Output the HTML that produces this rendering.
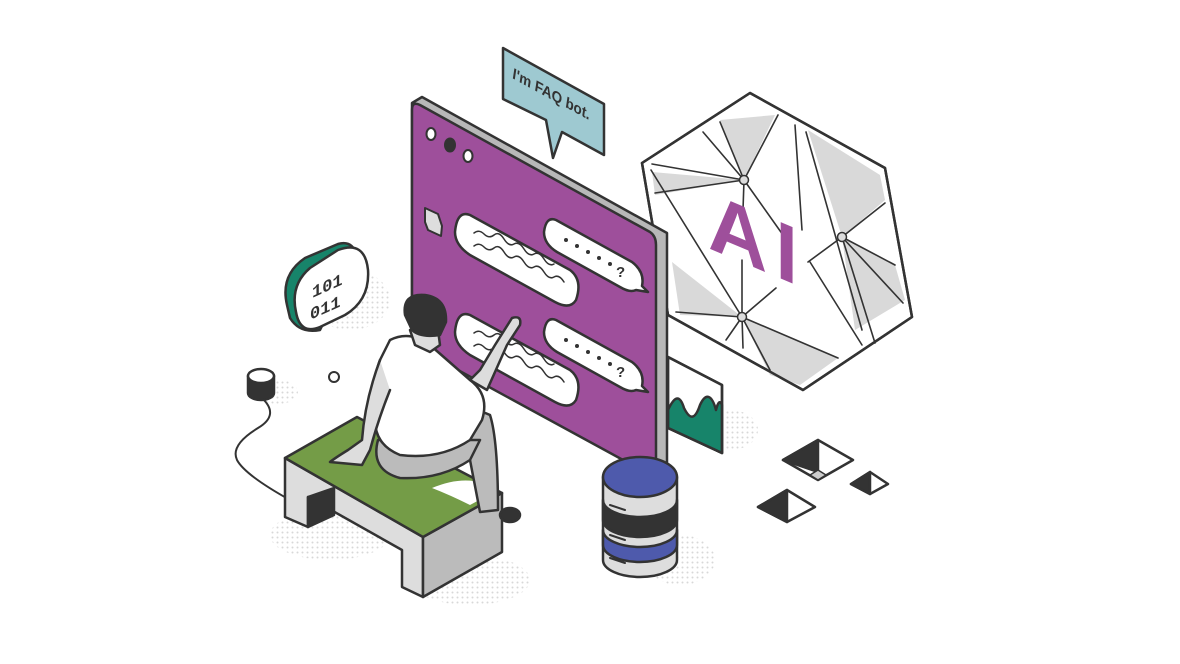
<!DOCTYPE html>
<html><head><meta charset="utf-8"><style>html,body{margin:0;padding:0;background:#fff}svg{display:block}</style></head>
<body>
<svg width="1180" height="664" viewBox="0 0 1180 664" xmlns="http://www.w3.org/2000/svg" stroke="#333" stroke-width="2.5" stroke-linejoin="round" stroke-linecap="round">
<defs>
<pattern id="dots" width="5" height="5" patternUnits="userSpaceOnUse"><circle cx="2.5" cy="2.5" r="1" fill="#d8d8d8" stroke="none"/></pattern>
</defs>
<g stroke="none" fill="url(#dots)">
<ellipse cx="350" cy="300" rx="40" ry="30"/>
<ellipse cx="278" cy="392" rx="20" ry="12"/>
<ellipse cx="330" cy="535" rx="60" ry="25"/>
<ellipse cx="470" cy="580" rx="60" ry="25"/>
<ellipse cx="730" cy="430" rx="28" ry="20"/>
<ellipse cx="680" cy="560" rx="35" ry="25"/>
</g>
<!-- green chart panel -->
<polygon points="668,357 722,385 722,453 668,428" fill="#fff"/>
<path d="M668,410 C675,395 680,395 684,408 C690,420 695,420 700,405 C706,392 712,395 716,410 C718,402 720,400 722,405 L722,453 L668,428 Z" fill="#17846a"/>
<polygon points="668,357 722,385 722,453 668,428" fill="none"/>
<!-- hexagon AI -->
<polygon points="642,163 750,93 885,168 912,317 803,390 668,315" fill="#fff"/>
<g fill="#d9d9d9" stroke="none">
<polygon points="720,120 775,115 744,180"/>
<polygon points="652,172 744,180 655,195"/>
<polygon points="808,130 880,175 885,200 842,237"/>
<polygon points="842,237 895,265 905,300 855,330"/>
<polygon points="672,262 742,317 680,315"/>
<polygon points="742,317 838,358 800,385 770,375"/>
</g>
<polygon points="642,163 750,93 885,168 912,317 803,390 668,315" fill="none"/>
<g stroke-width="1.6" fill="none">
<line x1="744" y1="180" x2="703" y2="132"/><line x1="744" y1="180" x2="720" y2="122"/><line x1="744" y1="180" x2="778" y2="115"/>
<line x1="744" y1="180" x2="652" y2="164"/><line x1="744" y1="180" x2="655" y2="193"/><line x1="744" y1="180" x2="743" y2="210"/>
<line x1="744" y1="180" x2="783" y2="235"/>
<line x1="651" y1="170" x2="742" y2="317"/><line x1="742" y1="317" x2="676" y2="312"/><line x1="742" y1="317" x2="726" y2="340"/>
<line x1="742" y1="317" x2="743" y2="348"/><line x1="742" y1="317" x2="770" y2="370"/><line x1="742" y1="317" x2="838" y2="358"/>
<line x1="742" y1="317" x2="776" y2="288"/><line x1="742" y1="317" x2="742" y2="260"/>
<line x1="795" y1="125" x2="802" y2="230"/>
<line x1="806" y1="132" x2="862" y2="330"/>
<line x1="842" y1="237" x2="885" y2="203"/><line x1="842" y1="237" x2="895" y2="265"/><line x1="842" y1="237" x2="903" y2="303"/>
<line x1="842" y1="237" x2="875" y2="343"/><line x1="842" y1="237" x2="808" y2="262"/><line x1="810" y1="262" x2="862" y2="345"/>
</g>
<circle cx="744" cy="180" r="4.5" fill="#ddd" stroke-width="1.5"/>
<circle cx="842" cy="237" r="4.5" fill="#ddd" stroke-width="1.5"/>
<circle cx="742" cy="317" r="4.5" fill="#ddd" stroke-width="1.5"/>
<text x="0" y="0" transform="matrix(1,0.42,0,1,708,248)" font-family="Liberation Sans, sans-serif" font-weight="bold" font-size="82" fill="#9e4f9b" stroke="none" letter-spacing="8">AI</text>
<!-- panel -->
<polygon points="412,103 422,97 667,233 667,475 657,478 412,340" fill="#b8b8b8"/>
<path d="M412,110 Q412,101 420,105 L650,232 Q656,236 656,245 L656,478 L412,345 Z" fill="#9e4f9b"/>
<ellipse cx="431" cy="134" rx="4.5" ry="6" fill="#fff" stroke-width="2"/>
<ellipse cx="450" cy="145" rx="5" ry="6.5" fill="#333" stroke-width="2"/>
<ellipse cx="468" cy="156" rx="4.5" ry="6" fill="#fff" stroke-width="2"/>
<path d="M425,208 L438,214 L442,226 L441,236 L428,230 L425,222 Z" fill="#ddd" stroke-width="2"/>
<g fill="#fff">
<path d="M470,215 L570,270 Q583,280 576,300 Q570,310 555,302 L470,255 Q455,245 455,232 Q457,210 470,215 Z"/>
<path d="M556,220 L632,262 Q645,272 642,286 L648,292 L636,290 Q630,293 620,287 L557,252 Q544,244 544,232 Q546,216 556,220 Z"/>
<path d="M470,315 L570,370 Q583,380 576,400 Q570,410 555,402 L470,355 Q455,345 455,332 Q457,310 470,315 Z"/>
<path d="M556,320 L632,362 Q645,372 642,386 L648,392 L636,390 Q630,393 620,387 L557,352 Q544,344 544,332 Q546,316 556,320 Z"/>
</g>
<g fill="none" stroke-width="1.5">
<path d="M474,233 q5,-4 10,1 t10,1 t10,4 t10,5 t10,5 t10,5 t10,5 t10,5"/>
<path d="M474,246 q5,-4 10,1 t10,1 t10,4 t10,5 t10,5 t10,5 t10,5 t10,5 t10,5"/>
<path d="M474,333 q5,-4 10,1 t10,1 t10,4 t10,5 t10,5 t10,5 t10,5 t10,5"/>
<path d="M474,346 q5,-4 10,1 t10,1 t10,4 t10,5 t10,5 t10,5 t10,5 t10,5 t10,5"/>
</g>
<g fill="#333" stroke="none">
<circle cx="566" cy="240" r="2"/><circle cx="577" cy="246" r="2"/><circle cx="588" cy="252" r="2"/><circle cx="599" cy="258" r="2"/><circle cx="610" cy="264" r="2"/>
<circle cx="566" cy="340" r="2"/><circle cx="577" cy="346" r="2"/><circle cx="588" cy="352" r="2"/><circle cx="599" cy="358" r="2"/><circle cx="610" cy="364" r="2"/>
</g>
<text x="616" y="277" font-family="Liberation Sans, sans-serif" font-weight="bold" font-size="15" fill="#333" stroke="none">?</text>
<text x="616" y="377" font-family="Liberation Sans, sans-serif" font-weight="bold" font-size="15" fill="#333" stroke="none">?</text>
<!-- FAQ bubble -->
<path d="M503,48 L604,104 L604,155 L562,132 L553,158 L546,120 L503,99 Z" fill="#9ec9d1"/>
<text x="0" y="0" transform="matrix(0.88,0.48,-0.15,0.99,512,78)" font-family="Liberation Sans, sans-serif" font-weight="bold" font-size="15" fill="#333" stroke="none">I'm FAQ bot.</text>
<!-- database -->
<path d="M603,477 L603,560 A37,17 0 0 0 677,560 L677,477 Z" fill="#ddd"/>
<path d="M603,500 A37,17 0 0 0 677,500 L677,520 A37,17 0 0 1 603,520 Z" fill="#333"/>
<path d="M603,530 A37,17 0 0 0 677,530 L677,545 A37,17 0 0 1 603,545 Z" fill="#4e5aac"/>
<ellipse cx="640" cy="477" rx="37" ry="20" fill="#4e5aac"/>
<g stroke-width="2"><line x1="610" y1="505" x2="625" y2="510"/><line x1="610" y1="535" x2="625" y2="540"/><line x1="610" y1="558" x2="625" y2="563"/></g>
<!-- pyramids -->
<polygon points="783,460 818,440 853,460 818,480" fill="#fff"/><polygon points="783,460 818,440 818,472" fill="#333"/><polygon points="810,475 818,470 826,475 818,480" fill="#ccc" stroke-width="1.5"/>
<polygon points="758,507 787,490 815,507 787,522" fill="#fff"/><polygon points="758,507 787,490 787,522" fill="#333"/>
<polygon points="851,484 870,472 888,484 870,494" fill="#fff"/><polygon points="851,484 870,472 870,494" fill="#333"/>
<!-- 101 badge -->
<path d="M287,305 Q280,275 305,258 L338,244 Q352,240 357,255 L320,330 Q300,334 290,318 Z" fill="#17846a"/>
<path d="M296,312 Q290,285 310,268 L338,250 Q365,240 368,270 Q370,300 345,315 L320,327 Q300,335 296,312 Z" fill="#fff"/>
<text x="0" y="0" transform="matrix(1,-0.45,0,1,312,298)" font-family="Liberation Mono, monospace" font-weight="bold" font-size="17" fill="#333" stroke="none">101</text>
<text x="0" y="0" transform="matrix(1,-0.45,0,1,310,320)" font-family="Liberation Mono, monospace" font-weight="bold" font-size="17" fill="#333" stroke="none">011</text>
<!-- puck and cable -->
<path d="M262,398 Q280,415 258,428 Q230,445 237,460 Q245,475 290,500" fill="none" stroke-width="2"/>
<path d="M248,376 L248,393 A13,7 0 0 0 274,393 L274,376 Z" fill="#333"/>
<ellipse cx="261" cy="376" rx="13" ry="7" fill="#fff"/>
<circle cx="334" cy="377" r="5" fill="#fff" stroke-width="2"/>
<!-- bench -->
<polygon points="285,458 423,537 423,597 402,587 402,550 308,497 308,527 285,517" fill="#ddd"/>
<polygon points="308,497 334,488 334,515 308,527" fill="#333"/>
<polygon points="423,537 502,493 502,552 423,597" fill="#bbb"/>
<polygon points="285,458 357,417 502,493 423,537" fill="#749c47"/>
<path d="M432,488 Q470,472 498,490 L470,505 Q450,495 432,488 Z" fill="#fff" stroke="none"/>
<ellipse cx="510" cy="515" rx="10" ry="7" fill="#333"/>
<!-- person -->
<path d="M440,420 Q470,405 490,415 Q498,440 498,510 L480,512 L470,460 Q440,470 420,470 Z" fill="#bbb"/>
<path d="M378,440 Q370,470 400,478 Q440,480 470,460 L480,440 Z" fill="#bbb"/>
<path d="M390,340 Q410,330 430,345 L470,380 Q490,395 482,420 L470,440 Q440,460 400,455 Q375,445 375,420 Q372,380 380,360 Z" fill="#fff"/>
<path d="M380,360 Q365,400 362,440 L348,450 Q335,458 330,462 L362,465 L370,450 Q378,420 390,390" fill="#ddd"/>
<path d="M470,380 L487,390 L507,345 L520,325 Q522,315 512,318 L495,345 L480,370 Z" fill="#ddd"/>
<path d="M410,330 L415,345 L430,352 L440,345 L438,330 Z" fill="#ddd"/>
<path d="M405,315 Q402,293 425,295 Q447,298 446,322 L440,335 Q420,338 412,330 Z" fill="#333"/>
</svg>
</body></html>
